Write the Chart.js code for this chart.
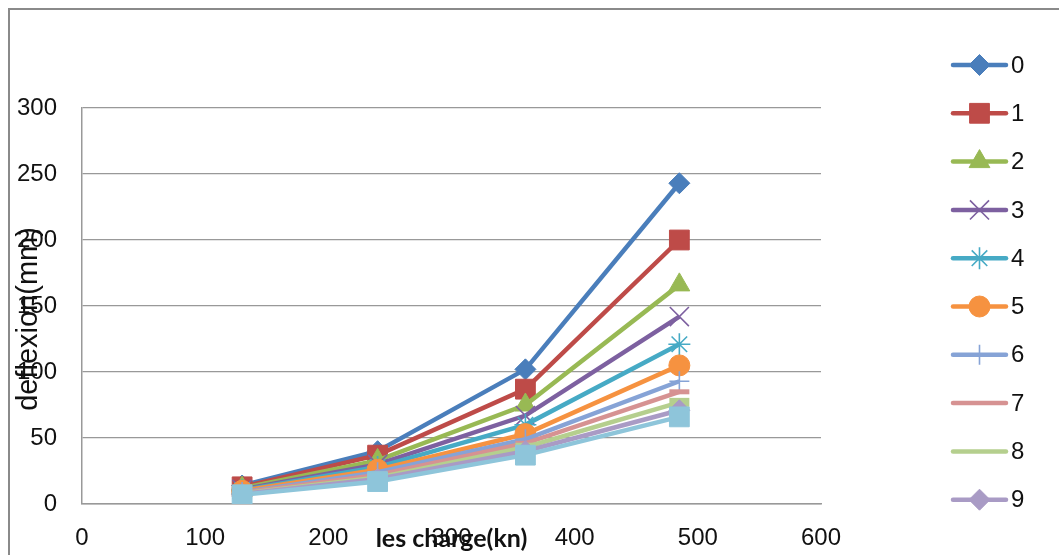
<!DOCTYPE html>
<html>
<head>
<meta charset="utf-8">
<script src="https://cdn.jsdelivr.net/npm/chart.js@4/dist/chart.umd.min.js"></script>
<style>
  html, body { margin: 0; padding: 0; background: #fff; overflow: hidden; }
  #wrap { width: 1059px; height: 555px; position: relative; }
</style>
</head>
<body>
<div id="wrap"><canvas id="c" width="1059" height="555"></canvas></div>
<script>
// Load steps (kN) on the x axis
const loads = [130, 240, 360, 485];

// Deflexion (mm) for each case 0..10
const series0  = [14, 40, 102, 243];
const series1  = [13, 37, 87, 200];
const series2  = [12, 33, 75, 166];
const series3  = [11, 30, 67, 142];
const series4  = [10.5, 28, 60, 121];
const series5  = [10, 26, 53, 105];
const series6  = [9, 24, 49, 93];
const series7  = [8.5, 22, 46, 85];
const series8  = [8, 20, 43, 77];
const series9  = [7.5, 19, 40, 71];
const series10 = [7, 17, 37, 66];

const seriesNames = ['0', '1', '2', '3', '4', '5', '6', '7', '8', '9', '10'];
const xTicks = [0, 100, 200, 300, 400, 500, 600];
const yTicks = [0, 50, 100, 150, 200, 250, 300];

const xTitle = 'les charge(kn)';
const yTitle = 'deflexion(mm)';

const allSeries = [series0, series1, series2, series3, series4, series5,
                   series6, series7, series8, series9, series10];

// Line colour, marker shape / size per case
const styles = [
  { color: '#4a7ebb', shape: 'rectRot',  r: 10.5, bw: 1 },
  { color: '#be4b48', shape: 'rect',     r: 14,   bw: 1 },
  { color: '#98b954', shape: 'triangle', r: 12,   bw: 1 },
  { color: '#7d60a0', shape: 'crossRot', r: 13.5, bw: 1.6 },
  { color: '#46aac5', shape: 'star',     r: 11,   bw: 1.6 },
  { color: '#f69240', shape: 'circle',   r: 10.5, bw: 1 },
  { color: '#86a3d6', shape: 'cross',    r: 10,   bw: 1.6 },
  { color: '#d69292', shape: 'line',     r: 10,   bw: 5 },
  { color: '#b5cf8e', shape: 'line',     r: 10,   bw: 9 },
  { color: '#a99bc5', shape: 'rectRot',  r: 10.5, bw: 1 },
  { color: '#8ec5da', shape: 'rect',     r: 14,   bw: 1 }
];

const legendCount = 10; // the last case does not fit in the legend box

const datasets = allSeries.map((vals, i) => {
  const st = styles[i];
  return {
    label: seriesNames[i],
    data: vals.map((v, k) => ({ x: loads[k], y: v })),
    borderColor: st.color,
    backgroundColor: st.color,
    borderWidth: 4.5,
    pointStyle: st.shape,
    pointRadius: st.r,
    pointHoverRadius: st.r,
    pointBorderWidth: st.bw,
    pointBackgroundColor: st.color,
    pointBorderColor: st.color,
    tension: 0,
    order: allSeries.length - i
  };
});

const FONT = '"Liberation Sans", Arial, sans-serif';

const framePlugin = {
  id: 'frame',
  beforeDraw(chart) {
    const ctx = chart.ctx;
    ctx.save();
    ctx.fillStyle = '#fff';
    ctx.fillRect(0, 0, chart.width, chart.height);
    ctx.strokeStyle = '#8a8a8a';
    ctx.lineWidth = 2;
    ctx.strokeRect(9, 9, chart.width + 20, chart.height + 20);
    ctx.restore();
  }
};

const titlesPlugin = {
  id: 'axisTitles',
  afterDraw(chart) {
    const ctx = chart.ctx;
    ctx.save();
    ctx.fillStyle = '#111';
    ctx.textAlign = 'center';
    ctx.textBaseline = 'middle';
    ctx.font = 'bold 25px Lato, "Open Sans", sans-serif';
    ctx.fillText(xTitle, 451.5, 539);
    ctx.translate(29, 319);
    ctx.rotate(-Math.PI / 2);
    ctx.font = '29px ' + FONT;
    ctx.fillText(yTitle, 0, 0);
    ctx.restore();
  }
};

const legendPlugin = {
  id: 'sideLegend',
  afterDraw(chart) {
    const ctx = chart.ctx;
    ctx.save();
    for (let i = 0; i < legendCount; i++) {
      const ds = chart.data.datasets[i];
      const y = 65 + i * 48.3;
      ctx.strokeStyle = ds.borderColor;
      ctx.lineWidth = 4.5;
      ctx.lineCap = 'round';
      ctx.beginPath();
      ctx.moveTo(953, y);
      ctx.lineTo(1006, y);
      ctx.stroke();
      if (ds.pointStyle !== 'line') {
        ctx.fillStyle = ds.pointBackgroundColor;
        ctx.strokeStyle = ds.pointBorderColor;
        ctx.lineWidth = ds.pointBorderWidth;
        ctx.lineCap = 'butt';
        Chart.helpers.drawPoint(ctx, {
          pointStyle: ds.pointStyle,
          radius: ds.pointRadius,
          rotation: 0,
          borderWidth: ds.pointBorderWidth
        }, 979.5, y);
      }
      ctx.fillStyle = '#111';
      ctx.font = '24px ' + FONT;
      ctx.textAlign = 'left';
      ctx.textBaseline = 'middle';
      ctx.fillText(ds.label, 1011, y + 1);
    }
    ctx.restore();
  }
};

new Chart(document.getElementById('c'), {
  type: 'line',
  data: { datasets },
  options: {
    responsive: false,
    animation: false,
    events: [],
    layout: { padding: { left: 0, right: 238, top: 108, bottom: 0 } },
    plugins: { legend: { display: false }, tooltip: { enabled: false }, title: { display: false } },
    scales: {
      x: {
        type: 'linear',
        min: 0,
        max: 600,
        afterBuildTicks: s => { s.ticks = xTicks.map(v => ({ value: v })); },
        afterFit: s => { s.height = 51; },
        grid: { display: false, drawTicks: false },
        border: { display: true, color: '#999', width: 1.5 },
        ticks: { color: '#111', font: { family: FONT, size: 24 }, padding: 20, maxRotation: 0 }
      },
      y: {
        type: 'linear',
        min: 0,
        max: 300,
        afterBuildTicks: s => { s.ticks = yTicks.map(v => ({ value: v })); },
        afterFit: s => { s.width = 82; },
        grid: { color: '#999', lineWidth: 1.3, drawTicks: false },
        border: { display: true, color: '#999', width: 1.5 },
        ticks: { color: '#111', font: { family: FONT, size: 24 }, padding: 25 }
      }
    }
  },
  plugins: [framePlugin, titlesPlugin, legendPlugin]
});
</script>
</body>
</html>
